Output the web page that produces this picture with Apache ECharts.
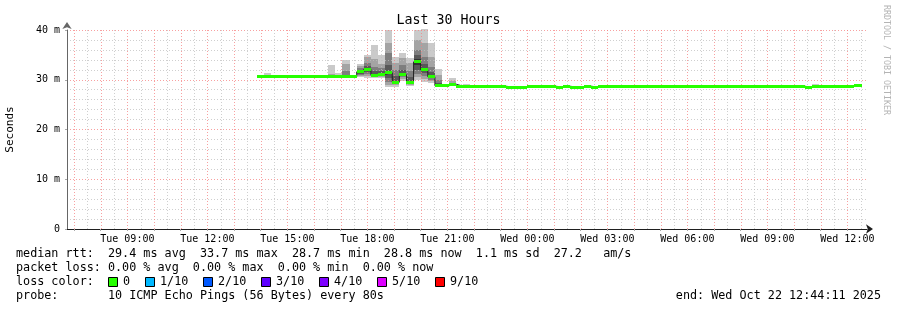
<!DOCTYPE html>
<html><head><meta charset="utf-8">
<script src="https://cdn.jsdelivr.net/npm/echarts@6/dist/echarts.min.js"></script>
<style>html,body{margin:0;padding:0;background:#fff}#c{width:897px;height:310px}</style>
</head><body><div id="c"></div>
<script>
// ---- time frame (hours since Tue 00:00) ----
const startHour = 6 + 44/60 + 11/3600;      // Tue 06:44:11
const endHour = startHour + 30;             // Wed 12:44:11
const firstBinHour = 13 + 52/60;            // first data bin Tue 13:52
const binHours = 16/60;                     // 16 minute consolidation

// ---- median rtt per bin (ms) ----
const medians = [
  30.6,30.6,30.6,30.6,30.6,30.6,30.6,30.6,30.6,30.6,
  30.6,30.6,30.6,30.6,31.6,32.1,30.9,31.1,31.4,29.5,
  31.0,29.5,33.6,32.0,30.6,28.8,28.8,29.1,28.7,28.7,
  28.7,28.7,28.7,28.7,28.7,28.5,28.5,28.5,28.7,28.7,
  28.7,28.7,28.5,28.7,28.5,28.5,28.7,28.5,28.7,28.7,
  28.7,28.7,28.7,28.7,28.7,28.7,28.7,28.7,28.7,28.7,
  28.7,28.7,28.7,28.7,28.7,28.7,28.7,28.7,28.7,28.7,
  28.7,28.7,28.7,28.7,28.7,28.7,28.7,28.5,28.7,28.7,
  28.7,28.7,28.7,28.7,28.8
];

// ---- smoke: bins with visible spread, sorted 10 ping rtts (ms) ----
const smokeBins = [1,10,11,12,14,15,16,17,18,19,20,21,22,23,24,25,27,29,78];
const smokePings = [
  [30.5,30.5,30.5,30.6,30.6,30.6,30.6,30.7,30.8,31.4],
  [30.5,30.5,30.5,30.6,30.6,30.6,30.7,30.8,31.1,33.0],
  [30.5,30.5,30.6,30.6,30.6,30.6,30.6,30.7,30.8,31.3],
  [30.5,30.5,30.6,30.6,30.6,30.6,30.8,31.8,33.1,34.0],
  [30.5,30.7,30.9,31.2,31.5,31.7,32.0,32.4,32.7,33.1],
  [30.3,30.8,31.2,31.6,32.0,32.2,32.7,33.3,34.5,35.0],
  [30.3,30.5,30.6,30.8,30.9,31.0,31.8,32.6,34.1,37.0],
  [30.3,30.5,30.7,30.9,31.0,31.2,31.8,32.3,33.1,35.0],
  [28.6,29.0,29.6,30.3,31.2,31.6,33.0,35.3,37.3,40.0],
  [28.6,28.9,29.2,29.4,29.5,29.6,30.8,32.0,33.3,34.5],
  [29.8,30.2,30.5,30.8,30.9,31.1,32.0,33.0,34.3,35.3],
  [28.8,29.0,29.2,29.4,29.5,29.6,30.5,31.8,33.3,34.3],
  [30.0,30.5,31.2,32.0,33.0,34.2,35.0,36.0,38.0,40.0],
  [29.6,30.2,30.8,31.4,31.8,32.2,33.2,34.6,37.3,40.3],
  [29.3,29.7,30.0,30.3,30.5,30.7,31.5,32.6,34.6,37.3],
  [28.5,28.6,28.7,28.7,28.8,28.8,29.3,30.0,31.0,32.2],
  [28.8,28.9,29.0,29.0,29.1,29.1,29.2,29.4,29.7,30.4],
  [28.6,28.7,28.7,28.7,28.7,28.8,28.8,28.8,28.9,29.2],
  [28.6,28.7,28.7,28.7,28.7,28.8,28.8,28.8,28.9,29.2]
];

// ---- axis ticks ----
const labelHours = [9,12,15,18,21,24,27,30,33,36];
const tickLabels = ['Tue 09:00','Tue 12:00','Tue 15:00','Tue 18:00','Tue 21:00',
                    'Wed 00:00','Wed 03:00','Wed 06:00','Wed 09:00','Wed 12:00'];
const majorHours = [7,8,9,10,11,12,13,14,15,16,17,18,19,20,21,22,23,24,25,26,27,28,29,30,31,32,33,34,35,36];
const minorHours = [7.5,8.5,9.5,10.5,11.5,12.5,13.5,14.5,15.5,16.5,17.5,18.5,19.5,20.5,21.5,22.5,23.5,24.5,25.5,26.5,27.5,28.5,29.5,30.5,31.5,32.5,33.5,34.5,35.5,36.5];

// ---- legend texts ----
const legendLines = [
  'median rtt:  29.4 ms avg  33.7 ms max  28.7 ms min  28.8 ms now  1.1 ms sd  27.2   am/s',
  'packet loss: 0.00 % avg  0.00 % max  0.00 % min  0.00 % now',
  'loss color:',
  'probe:       10 ICMP Echo Pings (56 Bytes) every 80s'
];
const lossLabels = ['0','1/10','2/10','3/10','4/10','5/10','9/10'];
const lossColors = ['#26ff00','#00b8ff','#0059ff','#5e00ff','#7e00ff','#dd00ff','#ff0000'];
const endText = 'end: Wed Oct 22 12:44:11 2025';

const MONO = '"DejaVu Sans Mono", monospace';
const smokeShades = ['#cacaca','#a4a4a4','#7e7e7e','#585858','#323232'];
const MGRID = 'rgba(245,128,128,0.75)';
const GRID = 'rgba(191,191,191,0.75)';

const binStart = i => firstBinHour + i * binHours;

const smokeData = smokeBins.map((b, j) => [binStart(b), binStart(b) + binHours].concat(smokePings[j]));
const medianData = medians.map((m, i) => [binStart(i), binStart(i) + binHours, m]);
const stepData = medians.map((m, i) => [binStart(i), m]);
stepData.push([binStart(medians.length), medians[medians.length - 1]]);

const chart = echarts.init(document.getElementById('c'), null, {renderer: 'canvas'});

const graphics = [];
const lineY = [254, 268, 282, 296];
const txtStyle = (t, align) => ({text: t, font: '11.76px ' + MONO, fill: '#000',
  align: align, verticalAlign: 'middle', textAlign: align, textVerticalAlign: 'middle'});
legendLines.forEach((t, i) => {
  graphics.push({type: 'text', x: 16, y: lineY[i], style: txtStyle(t, 'left')});
});
const boxX = [108, 145, 203, 261, 319, 377, 435];
lossLabels.forEach((t, i) => {
  graphics.push({type: 'rect', shape: {x: boxX[i] + 0.5, y: 277.5, width: 9, height: 9},
    style: {fill: lossColors[i], stroke: '#000', lineWidth: 1}});
  graphics.push({type: 'text', x: boxX[i] + 15, y: 282, style: txtStyle(t, 'left')});
});
graphics.push({type: 'text', x: 881, y: 296, style: txtStyle(endText, 'right')});
graphics.push({type: 'text', x: 886, y: 5, rotation: -Math.PI / 2, style: {text: 'RRDTOOL / TOBI OETIKER',
  font: '8.3px ' + MONO, fill: '#b4b4b4', align: 'left', verticalAlign: 'middle', textAlign: 'left', textVerticalAlign: 'middle'}});

// vertical grid line renderer (time grid drawn through the x scale)
const vGrid = (color) => (params, api) => {
  const a = api.coord([api.value(0), 0]);
  const b = api.coord([api.value(0), 40]);
  const x = Math.round(a[0]) + 0.5;
  return {type: 'line', shape: {x1: x, y1: a[1], x2: x, y2: b[1]},
    style: {stroke: color, lineWidth: 1, lineDash: [1, 2]}};
};

const option = {
  backgroundColor: '#fff',
  animation: false,
  title: {text: 'Last 30 Hours', left: 'center', top: 9,
    textStyle: {fontFamily: MONO, fontSize: 13.3, fontWeight: 'normal', color: '#000'}},
  grid: {left: 67, top: 30, width: 800, height: 199, containLabel: false, outerBoundsMode: 'none'},
  xAxis: {
    type: 'value', min: startHour, max: endHour, z: 1,
    axisLine: {show: true, lineStyle: {color: '#1f1f1f', width: 1}, symbol: ['none', 'arrow'],
      symbolSize: [7, 7], symbolOffset: [0, 6]},
    axisTick: {show: true, customValues: majorHours, length: 2, lineStyle: {color: '#aaa'}},
    axisLabel: {customValues: labelHours, margin: 5, fontFamily: MONO, fontSize: 10, color: '#000',
      formatter: v => tickLabels[labelHours.indexOf(Math.round(v))] || ''},
    splitLine: {show: false}
  },
  yAxis: {
    type: 'value', min: 0, max: 40, interval: 10, z: 1,
    name: 'Seconds', nameLocation: 'middle', nameGap: 51, nameRotate: 90,
    nameTextStyle: {fontFamily: MONO, fontSize: 11, color: '#000'},
    axisLine: {show: true, lineStyle: {color: '#666', width: 1}, symbol: ['none', 'arrow'],
      symbolSize: [7, 7], symbolOffset: [0, 8]},
    axisTick: {show: true, length: 2, lineStyle: {color: '#aaa'}},
    axisLabel: {margin: 7, fontFamily: MONO, fontSize: 10, color: '#000',
      formatter: v => v === 0 ? '0' : v + ' m'},
    splitLine: {show: true, lineStyle: {color: MGRID, type: [1, 2], width: 1}},
    minorTick: {show: false, splitNumber: 5},
    minorSplitLine: {show: true, lineStyle: {color: GRID, type: [1, 2], width: 1}}
  },
  series: [{
    type: 'custom', name: 'smoke', z: 0, silent: true,
    encode: {x: [0, 1], y: [2, 3, 4, 5, 6, 7, 8, 9, 10, 11]},
    data: smokeData,
    renderItem: (params, api) => {
      const x0 = api.value(0), x1 = api.value(1);
      const children = [];
      for (let k = 0; k < 5; k++) {
        const lo = api.value(2 + k), hi = api.value(11 - k);
        const a = api.coord([x0, hi]), b = api.coord([x1, lo]);
        const ax = Math.round(a[0]), bx = Math.round(b[0]);
        const ay = Math.round(a[1]), by = Math.round(b[1]);
        children.push({type: 'rect', shape: {x: ax, y: ay, width: bx - ax, height: Math.max(by - ay, 0)},
          style: {fill: smokeShades[k]}});
      }
      return {type: 'group', children};
    }
  }, {
    type: 'custom', name: 'grid-minor', z: 1, silent: true, clip: false,
    encode: {x: 0}, data: minorHours.map(h => [h]), renderItem: vGrid(GRID)
  }, {
    type: 'custom', name: 'grid-major', z: 1, silent: true, clip: false,
    encode: {x: 0}, data: majorHours.map(h => [h]), renderItem: vGrid(MGRID)
  }, {
    type: 'line', name: 'median-outline', z: 3, step: 'end', symbol: 'none', silent: true,
    data: stepData, lineStyle: {color: '#202020', width: 1}
  }, {
    type: 'custom', name: 'median', z: 4, silent: true,
    encode: {x: [0, 1], y: 2},
    data: medianData,
    renderItem: (params, api) => {
      const a = api.coord([api.value(0), api.value(2)]);
      const b = api.coord([api.value(1), api.value(2)]);
      const ax = Math.round(a[0]), bx = Math.round(b[0]);
      const top = Math.round(a[1] - 1.5);
      return {type: 'rect', shape: {x: ax, y: top, width: bx - ax, height: 3}, style: {fill: '#26ff00'}};
    }
  }],
  graphic: graphics
};
chart.setOption(option);
</script>
</body></html>
